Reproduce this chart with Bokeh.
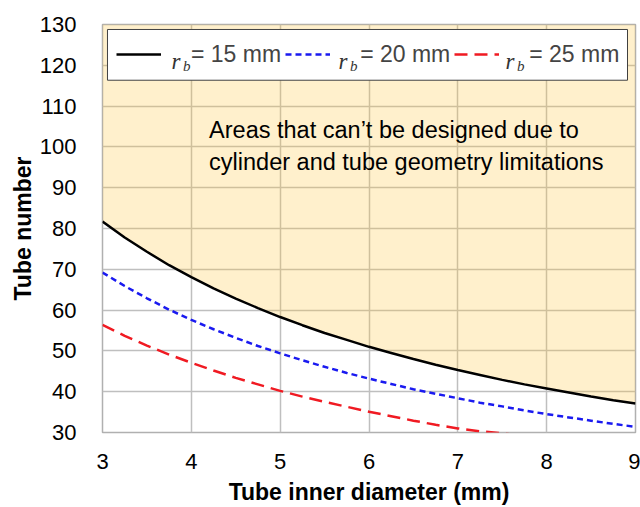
from bokeh.plotting import figure
from bokeh.models import Range1d, FixedTicker, Legend, LegendItem, Label, BoxAnnotation
from bokeh.embed import file_html
from bokeh.resources import INLINE

# Tube inner diameter (mm)
diameter = [3.0, 3.25, 3.5, 3.75, 4.0, 4.25, 4.5, 4.75, 5.0, 5.25, 5.5, 5.75, 6.0,
            6.25, 6.5, 6.75, 7.0, 7.25, 7.5, 7.75, 8.0, 8.25, 8.5, 8.75, 9.0]
# Tube number for each bundle radius
rb15 = [81.7, 77.8, 74.3, 71.0, 68.1, 65.3, 62.8, 60.5, 58.3, 56.3, 54.4, 52.7, 51.0,
        49.5, 48.0, 46.6, 45.3, 44.1, 42.9, 41.8, 40.8, 39.8, 38.8, 37.9, 37.1]
rb20 = [69.2, 65.9, 62.9, 60.1, 57.6, 55.3, 53.2, 51.2, 49.4, 47.7, 46.1, 44.6, 43.2,
        41.9, 40.6, 39.5, 38.4, 37.3, 36.4, 35.4, 34.5, 33.7, 32.9, 32.1, 31.4]
rb25 = [56.4, 53.7, 51.3, 49.1, 47.1, 45.2, 43.4, 41.8, 40.2, 38.8, 37.5, 36.3, 35.1,
        34.0, 32.9, 31.9, 31.0, 30.3, 29.8, 29.1, 28.5, 27.9, 27.3, 26.8, 26.3]
# Upper limit of the infeasible (shaded) area
upper = [130] * len(diameter)

labels = ["= 15 mm", "= 20 mm", "= 25 mm"]
x_ticks = [3, 4, 5, 6, 7, 8, 9]
y_ticks = [30, 40, 50, 60, 70, 80, 90, 100, 110, 120, 130]

FONT = "Liberation Sans"

p = figure(width=640, height=507, x_range=Range1d(3, 9), y_range=Range1d(30, 130),
           output_backend="svg", toolbar_location=None,
           min_border_left=102, min_border_right=5, min_border_top=24, min_border_bottom=74)
p.background_fill_color = "white"
p.border_fill_color = "white"
p.outline_line_color = "#B0B0B0"
p.outline_line_width = 1.5

for g in (p.xgrid, p.ygrid):
    g.grid_line_color = "#BFBFBF"
    g.grid_line_width = 1.5

p.xaxis.ticker = FixedTicker(ticks=x_ticks)
p.yaxis.ticker = FixedTicker(ticks=y_ticks)
for ax in (p.xaxis, p.yaxis):
    ax.axis_line_color = None
    ax.major_tick_line_color = None
    ax.minor_tick_line_color = None
    ax.major_label_text_font = FONT
    ax.major_label_text_font_size = "22px"
    ax.major_label_text_color = "black"
    ax.axis_label_text_font = FONT
    ax.axis_label_text_font_size = "23px"
    ax.axis_label_text_font_style = "bold"
    ax.axis_label_text_color = "black"
p.xaxis.axis_label = "Tube inner diameter (mm)"
p.yaxis.axis_label = "Tube number"
p.xaxis.major_label_standoff = 15
p.yaxis.major_label_standoff = 20
p.xaxis.axis_label_standoff = 7
p.yaxis.axis_label_standoff = 1

p.varea(x=diameter, y1=rb15, y2=upper, fill_color=(255, 195, 51), fill_alpha=0.25)

l1 = p.line(diameter, rb15, line_color="black", line_width=2.5)
l2 = p.line(diameter, rb20, line_color="#1A1AF0", line_width=2.5, line_dash="6 4")
l3 = p.line(diameter, rb25, line_color="#F01A22", line_width=2.5, line_dash="13 7")

# white legend box (drawn first so the r_b symbols can sit on top of it)
p.add_layout(BoxAnnotation(left=3.056, right=8.91, top=128.78, bottom=116.34,
                           fill_color="white", fill_alpha=1.0,
                           line_color="#404040", line_width=1, line_alpha=1.0))

# italic r with subscript b in front of each legend label
for xr in (3.777, 5.657, 7.537):
    p.add_layout(Label(x=xr, y=120.85, text="r",
                       text_font="Liberation Serif", text_font_style="italic",
                       text_font_size="23px", text_baseline="alphabetic", text_color="#333333"))
    p.add_layout(Label(x=xr + 0.129, y=119.76, text="b",
                       text_font="Liberation Serif", text_font_style="italic",
                       text_font_size="15px", text_baseline="alphabetic", text_color="#333333"))

legend = Legend(items=[LegendItem(label=labels[0], renderers=[l1]),
                       LegendItem(label=labels[1], renderers=[l2]),
                       LegendItem(label=labels[2], renderers=[l3])],
                orientation="horizontal", location="top_left", margin=5, padding=9,
                spacing=4, glyph_width=45, glyph_height=32, label_standoff=30, label_height=32,
                label_text_font=FONT, label_text_font_size="23px",
                border_line_color="white", border_line_alpha=0.0,
                background_fill_color="white", background_fill_alpha=0.0)
p.add_layout(legend)

p.add_layout(Label(x=4.2, y=100.2,
                   text="Areas that can\u2019t be designed due to\ncylinder and tube geometry limitations",
                   text_font=FONT, text_font_size="23.5px", text_baseline="alphabetic",
                   text_line_height=1.2, text_color="black"))

open("out.html", "w").write(file_html(p, INLINE))
